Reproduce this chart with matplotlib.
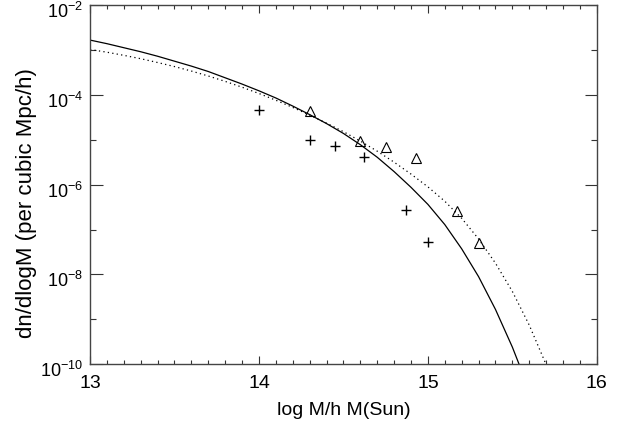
import matplotlib
matplotlib.use('Agg')
import matplotlib.pyplot as plt
import matplotlib.transforms as mtransforms
import numpy as np

plt.rcParams['font.family'] = ['Liberation Sans', 'DejaVu Sans']
plt.rcParams['mathtext.fontset'] = 'custom'
plt.rcParams['mathtext.rm'] = 'Liberation Sans'
plt.rcParams['mathtext.it'] = 'Liberation Sans'

# solid curve (log M, log10 dn/dlogM)
solid_x = [13.0, 13.1, 13.2, 13.3, 13.4, 13.5, 13.6, 13.7, 13.8, 13.9, 14.0, 14.1, 14.2,
           14.3, 14.4, 14.5, 14.6, 14.7, 14.8, 14.9, 15.0, 15.1, 15.2, 15.3, 15.4, 15.5, 15.55]
solid_y = [-2.78, -2.86, -2.95, -3.04, -3.14, -3.25, -3.36, -3.48, -3.62, -3.76, -3.91, -4.07, -4.25,
           -4.44, -4.64, -4.86, -5.11, -5.39, -5.71, -6.06, -6.44, -6.89, -7.43, -8.05, -8.78, -9.62, -10.1]

# dotted curve
dot_x = [13.0, 13.1, 13.2, 13.3, 13.4, 13.5, 13.6, 13.7, 13.8, 13.9, 14.0, 14.1, 14.2, 14.3,
         14.4, 14.5, 14.6, 14.7, 14.8, 14.9, 15.0, 15.1, 15.2, 15.3, 15.4, 15.5, 15.6, 15.7, 15.72]
dot_y = [-2.99, -3.05, -3.12, -3.195, -3.28, -3.37, -3.47, -3.58, -3.70, -3.83, -3.97, -4.12, -4.28, -4.45,
         -4.63, -4.82, -5.03, -5.255, -5.50, -5.765, -6.05, -6.37, -6.75, -7.21, -7.75, -8.38, -9.13, -10.01, -10.2]

# data points
plus_x = [14.00, 14.30, 14.45, 14.62, 14.87, 15.00]
plus_y = [-4.34, -5.01, -5.14, -5.39, -6.57, -7.27]
tri_x = [14.30, 14.60, 14.75, 14.93, 15.17, 15.30]
tri_y = [-4.35, -5.03, -5.16, -5.41, -6.59, -7.29]

fig = plt.figure(figsize=(6.23, 4.22), dpi=100)
ax = fig.add_axes([0.1445, 0.137, 0.958 - 0.1445, 0.988 - 0.137])

ax.plot(solid_x, 10**np.array(solid_y), color='k', lw=0.9)
ax.plot(dot_x, 10**np.array(dot_y), color='k', lw=0.9, linestyle=(0, (1, 2.6)))
ax.plot(plus_x, 10**np.array(plus_y), '+', color='k', ms=6.5, mew=1.0)
ax.plot(tri_x, 10**np.array(tri_y), '^', mfc='none', mec='k', ms=7, mew=0.8)

ax.set_yscale('log')
ax.set_xlim(13, 16)
ax.set_ylim(1e-10, 1e-2)

ax.set_xticks([13, 14, 15, 16])
ax.set_xticklabels(['13', '14', '15', '16'])
ax.set_xticks(np.arange(13, 16.01, 0.1), minor=True)
ax.set_yticks([1e-10, 1e-8, 1e-6, 1e-4, 1e-2])
ax.set_yticklabels(['$10^{-10}$', '$10^{-8}$', '$10^{-6}$', '$10^{-4}$', '$10^{-2}$'])
ax.set_yticks([1e-9, 1e-7, 1e-5, 1e-3], minor=True)
ax.yaxis.set_minor_formatter(matplotlib.ticker.NullFormatter())

ax.tick_params(which='both', direction='in', top=True, right=True, color='#333')
ax.tick_params(axis='x', which='major', length=6, width=0.8, pad=8, labelsize=14)
ax.tick_params(axis='x', which='minor', length=3, width=0.8)
ax.tick_params(axis='y', which='major', length=9, width=0.8, pad=5, labelsize=13)
ax.tick_params(axis='y', which='minor', length=4.5, width=0.8)
for s in ax.spines.values():
    s.set_linewidth(1.0)
    s.set_color('#444')

# y tick labels sit a little below their ticks in the reference
shift = mtransforms.ScaledTranslation(0, -0.05, fig.dpi_scale_trans)
for lab in ax.get_yticklabels():
    lab.set_transform(lab.get_transform() + shift)

ax.set_xlabel('log M/h M(Sun)', fontsize=14, labelpad=7)
ax.set_ylabel('dn/dlogM (per cubic Mpc/h)', fontsize=16)
ax.yaxis.set_label_coords(-0.105, 0.45)

fig.savefig('out.png', dpi=100)
